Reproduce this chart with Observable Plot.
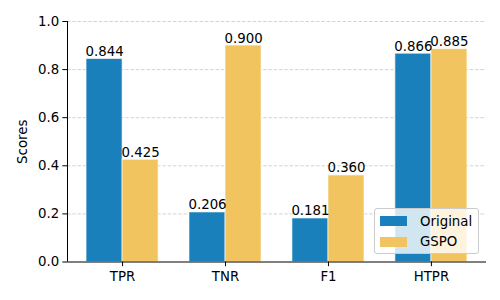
<!DOCTYPE html>
<html>
<head>
<meta charset="utf-8">
<script src="https://cdn.jsdelivr.net/npm/d3@7"></script>
<script src="https://cdn.jsdelivr.net/npm/@observablehq/plot@0.6"></script>
<style>
  html, body { margin: 0; padding: 0; background: #fff; }
  #wrap { position: relative; width: 500px; height: 300px; font-family: "DejaVu Sans", sans-serif; }
  #wrap svg text { font-family: "DejaVu Sans", sans-serif; font-size: 13.33px; }
  #legend {
    position: absolute; left: 374px; top: 208px; width: 103px; height: 44px;
    background: rgba(255,255,255,0.8); border: 1px solid #cccccc; border-radius: 3px;
    font-size: 13.33px; color: #000; box-sizing: content-box;
  }
  .item { position: absolute; left: 5px; height: 16px; display: flex; align-items: center; }
  .sw { width: 27px; height: 10px; margin-right: 13px; }
</style>
</head>
<body>
<div id="wrap"></div>
<script>
const categories = ["TPR", "TNR", "F1", "HTPR"];
const seriesNames = ["Original", "GSPO"];
const original = [0.844, 0.206, 0.181, 0.866];
const gspo = [0.425, 0.900, 0.360, 0.885];
const yTicks = [0, 0.2, 0.4, 0.6, 0.8, 1.0];
const colors = ["#1a80bb", "#f2c45f"];

const barW = 0.35;
const rows = [];
categories.forEach((c, i) => {
  rows.push({cat: c, i, series: seriesNames[0], value: original[i], x1: i - barW, x2: i});
  rows.push({cat: c, i, series: seriesNames[1], value: gspo[i], x1: i, x2: i + barW});
});
const pad = (categories.length - 1 + 2 * barW) * 0.05;
const fs = 13.33;

const plot = Plot.plot({
  width: 500,
  height: 300,
  marginLeft: 67,
  marginRight: 14,
  marginTop: 21,
  marginBottom: 38.5,
  style: "font-family: 'DejaVu Sans', sans-serif; font-size: 13.33px; color: #000; background: transparent;",
  x: {domain: [-barW - pad, categories.length - 1 + barW + pad], axis: null},
  y: {domain: [0, 1], axis: null},
  color: {domain: seriesNames, range: colors},
  marks: [
    Plot.ruleY(yTicks.filter(d => d > 0), {stroke: "#b0b0b0", strokeOpacity: 0.7, strokeDasharray: "3.5,1.8", strokeWidth: 0.8}),
    Plot.rectY(rows, {x1: "x1", x2: "x2", y: "value", fill: "series", stroke: "white", strokeOpacity: 0.6, strokeWidth: 1}),
    Plot.text(rows, {x: d => (d.x1 + d.x2) / 2, y: "value", text: d => d3.format(".3f")(d.value), dy: -3, lineAnchor: "bottom", textAnchor: "middle", fill: "#000", fontSize: fs}),
    Plot.axisY({ticks: yTicks, tickFormat: d3.format(".1f"), tickSize: 4.7, tickPadding: 3.5, label: null, stroke: "#000", fontSize: fs}),
    Plot.axisX({ticks: categories.map((c, i) => i), tickFormat: i => categories[i], tickSize: 4.7, tickPadding: 5, label: null, fontSize: fs}),
    Plot.ruleX([-barW - pad], {stroke: "#000", strokeWidth: 1}),
    Plot.ruleY([0], {stroke: "#000", strokeWidth: 1}),
    Plot.text(["Scores"], {frameAnchor: "left", rotate: -90, dx: -45, textAnchor: "middle", fill: "#000", fontSize: fs})
  ]
});

const wrap = document.getElementById("wrap");
wrap.appendChild(plot);

const legend = document.createElement("div");
legend.id = "legend";
seriesNames.forEach((name, k) => {
  const item = document.createElement("div");
  item.className = "item";
  item.style.top = (4 + k * 20.5) + "px";
  const sw = document.createElement("div");
  sw.className = "sw";
  sw.style.background = colors[k];
  const lab = document.createElement("span");
  lab.textContent = name;
  item.appendChild(sw);
  item.appendChild(lab);
  legend.appendChild(item);
});
wrap.appendChild(legend);
</script>
</body>
</html>
